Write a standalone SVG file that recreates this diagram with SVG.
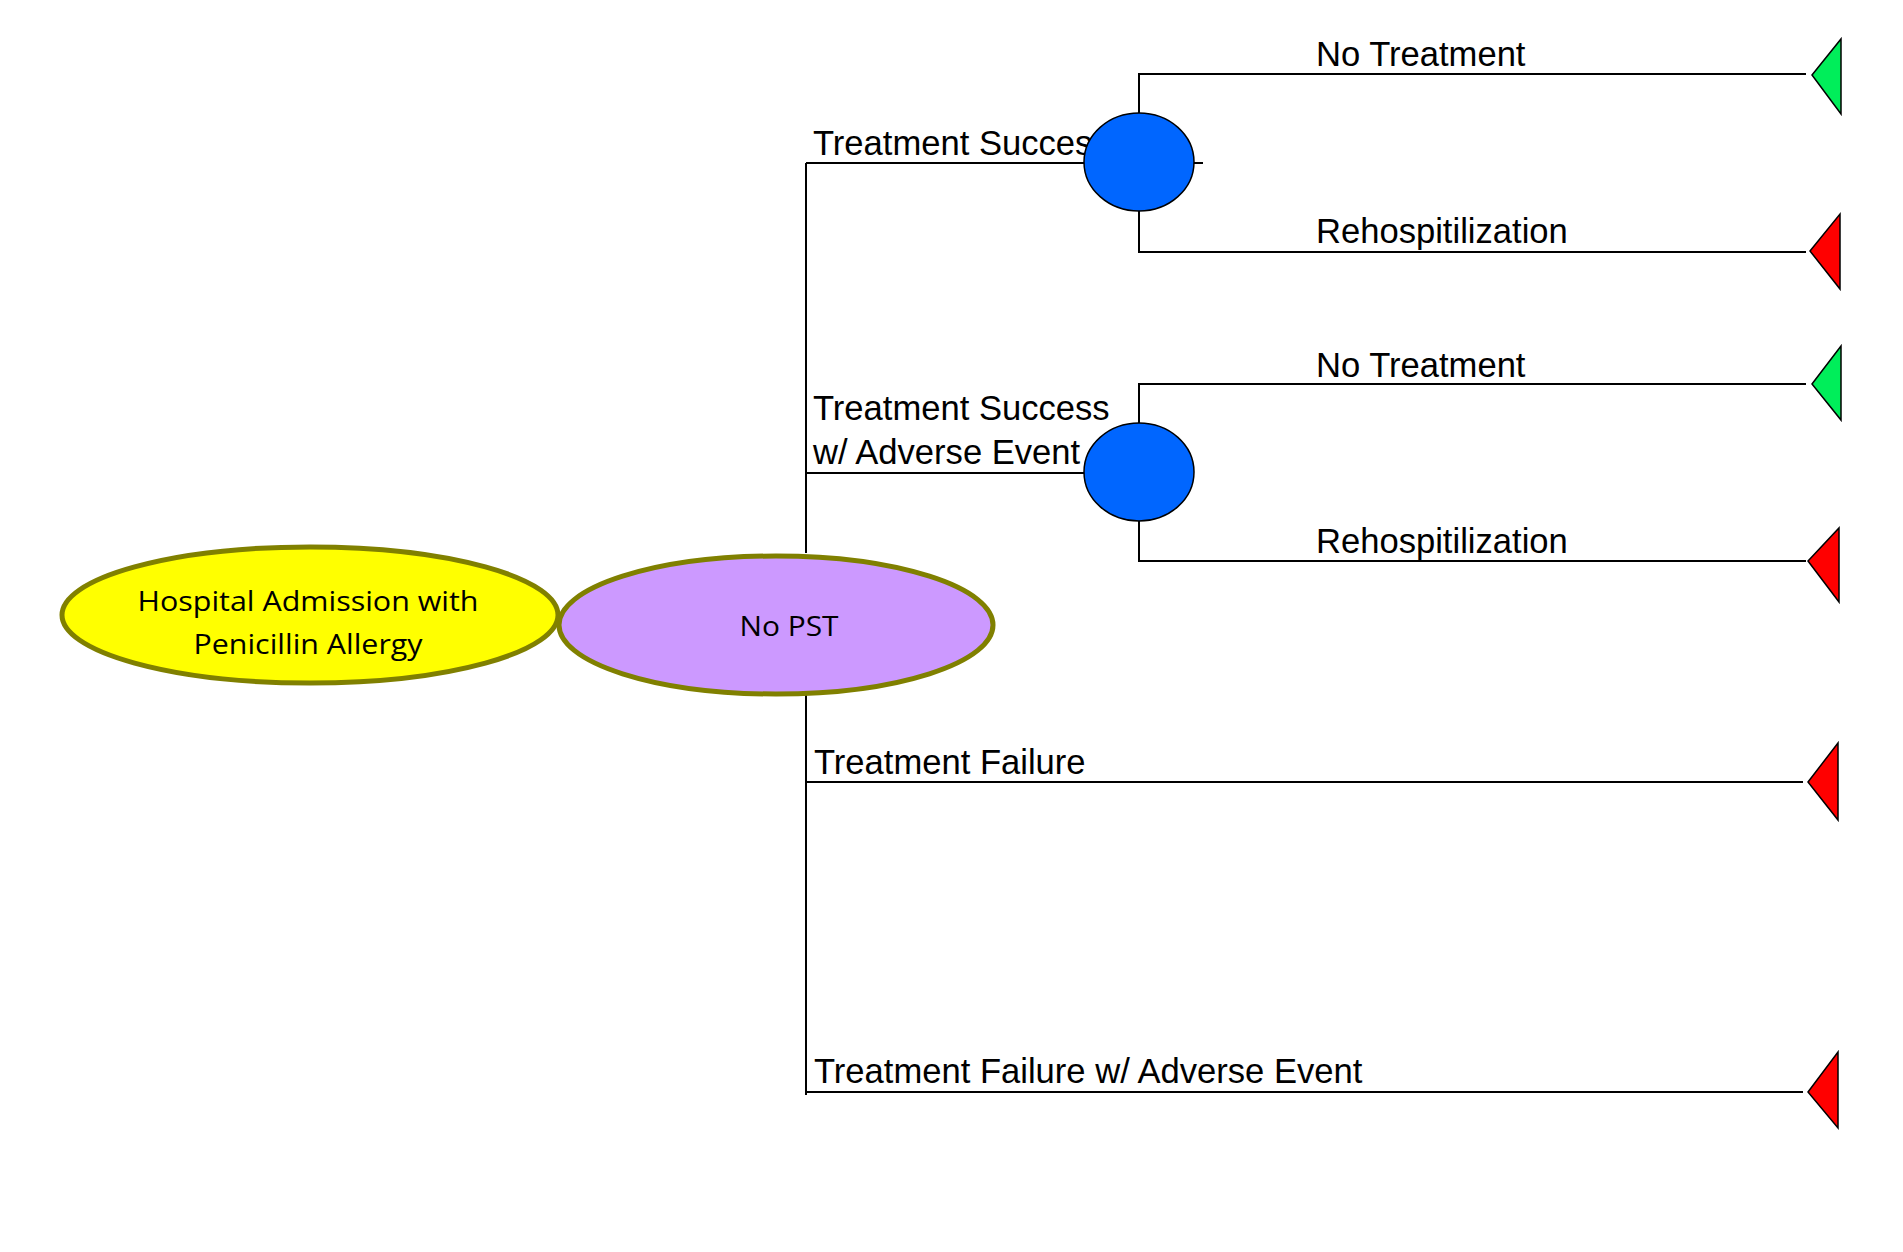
<svg xmlns="http://www.w3.org/2000/svg" width="1903" height="1252" viewBox="0 0 1903 1252">
<style>
.ln{stroke:#000;stroke-width:2;fill:none}
.lbl{font-family:"Liberation Sans",Arial,sans-serif;font-size:34.6px;fill:#000}
.chance{fill:#0066FF;stroke:#000;stroke-width:1.5}
.term-g{fill:#00EE5A;stroke:#000;stroke-width:1.5}
.term-r{fill:#FF0000;stroke:#000;stroke-width:1.5}
.big{stroke:#808000;stroke-width:5}
.ntxt{font-family:"Open Sans","Noto Sans",sans-serif;font-size:28px;fill:#000;text-anchor:middle}
</style>
<rect width="1903" height="1252" fill="#fff"/>
<g id="connectors">
<path class="ln" d="M806 163 V553 M806 694 V1095"/>
<path class="ln" d="M806 163 H1203"/>
<path class="ln" d="M806 473 H1090"/>
<path class="ln" d="M806 782 H1803"/>
<path class="ln" d="M806 1092 H1803"/>
<path class="ln" d="M1139 113 V74 H1806"/>
<path class="ln" d="M1139 211 V252 H1806"/>
<path class="ln" d="M1139 423 V384 H1806"/>
<path class="ln" d="M1139 521 V561 H1806"/>
</g>
<g id="labels">
<text class="lbl" x="813" y="155">Treatment Success</text>
<text class="lbl" x="813" y="420">Treatment Success</text>
<text class="lbl" x="813" y="464">w/ Adverse Event</text>
<text class="lbl" x="814" y="774">Treatment Failure</text>
<text class="lbl" x="814" y="1083">Treatment Failure w/ Adverse Event</text>
<text class="lbl" x="1316" y="66">No Treatment</text>
<text class="lbl" x="1316" y="243">Rehospitilization</text>
<text class="lbl" x="1316" y="377">No Treatment</text>
<text class="lbl" x="1316" y="553">Rehospitilization</text>
</g>
<g id="chance1"><ellipse class="chance" cx="1139" cy="162" rx="55" ry="49"/></g>
<g id="chance2"><ellipse class="chance" cx="1139" cy="472" rx="55" ry="49"/></g>
<g id="term1"><polygon class="term-g" points="1812,75 1841,39 1841,114"/></g>
<g id="term2"><polygon class="term-r" points="1810,251 1840,214 1840,289"/></g>
<g id="term3"><polygon class="term-g" points="1812,384 1841,346 1841,420"/></g>
<g id="term4"><polygon class="term-r" points="1808,561 1839,528 1839,602"/></g>
<g id="term5"><polygon class="term-r" points="1808,782 1838,743 1838,820"/></g>
<g id="term6"><polygon class="term-r" points="1808,1092 1838,1052 1838,1128"/></g>
<g id="root">
<ellipse class="big" cx="310" cy="615" rx="248" ry="68" fill="#FFFF00"/>
<text class="ntxt" x="308" y="611" textLength="341" lengthAdjust="spacingAndGlyphs">Hospital Admission with</text>
<text class="ntxt" x="308" y="654" textLength="229" lengthAdjust="spacingAndGlyphs">Penicillin Allergy</text>
</g>
<g id="nopst">
<ellipse class="big" cx="776" cy="625" rx="217" ry="69" fill="#CC99FF"/>
<text class="ntxt" x="789" y="636" textLength="99" lengthAdjust="spacingAndGlyphs">No PST</text>
</g>
</svg>
